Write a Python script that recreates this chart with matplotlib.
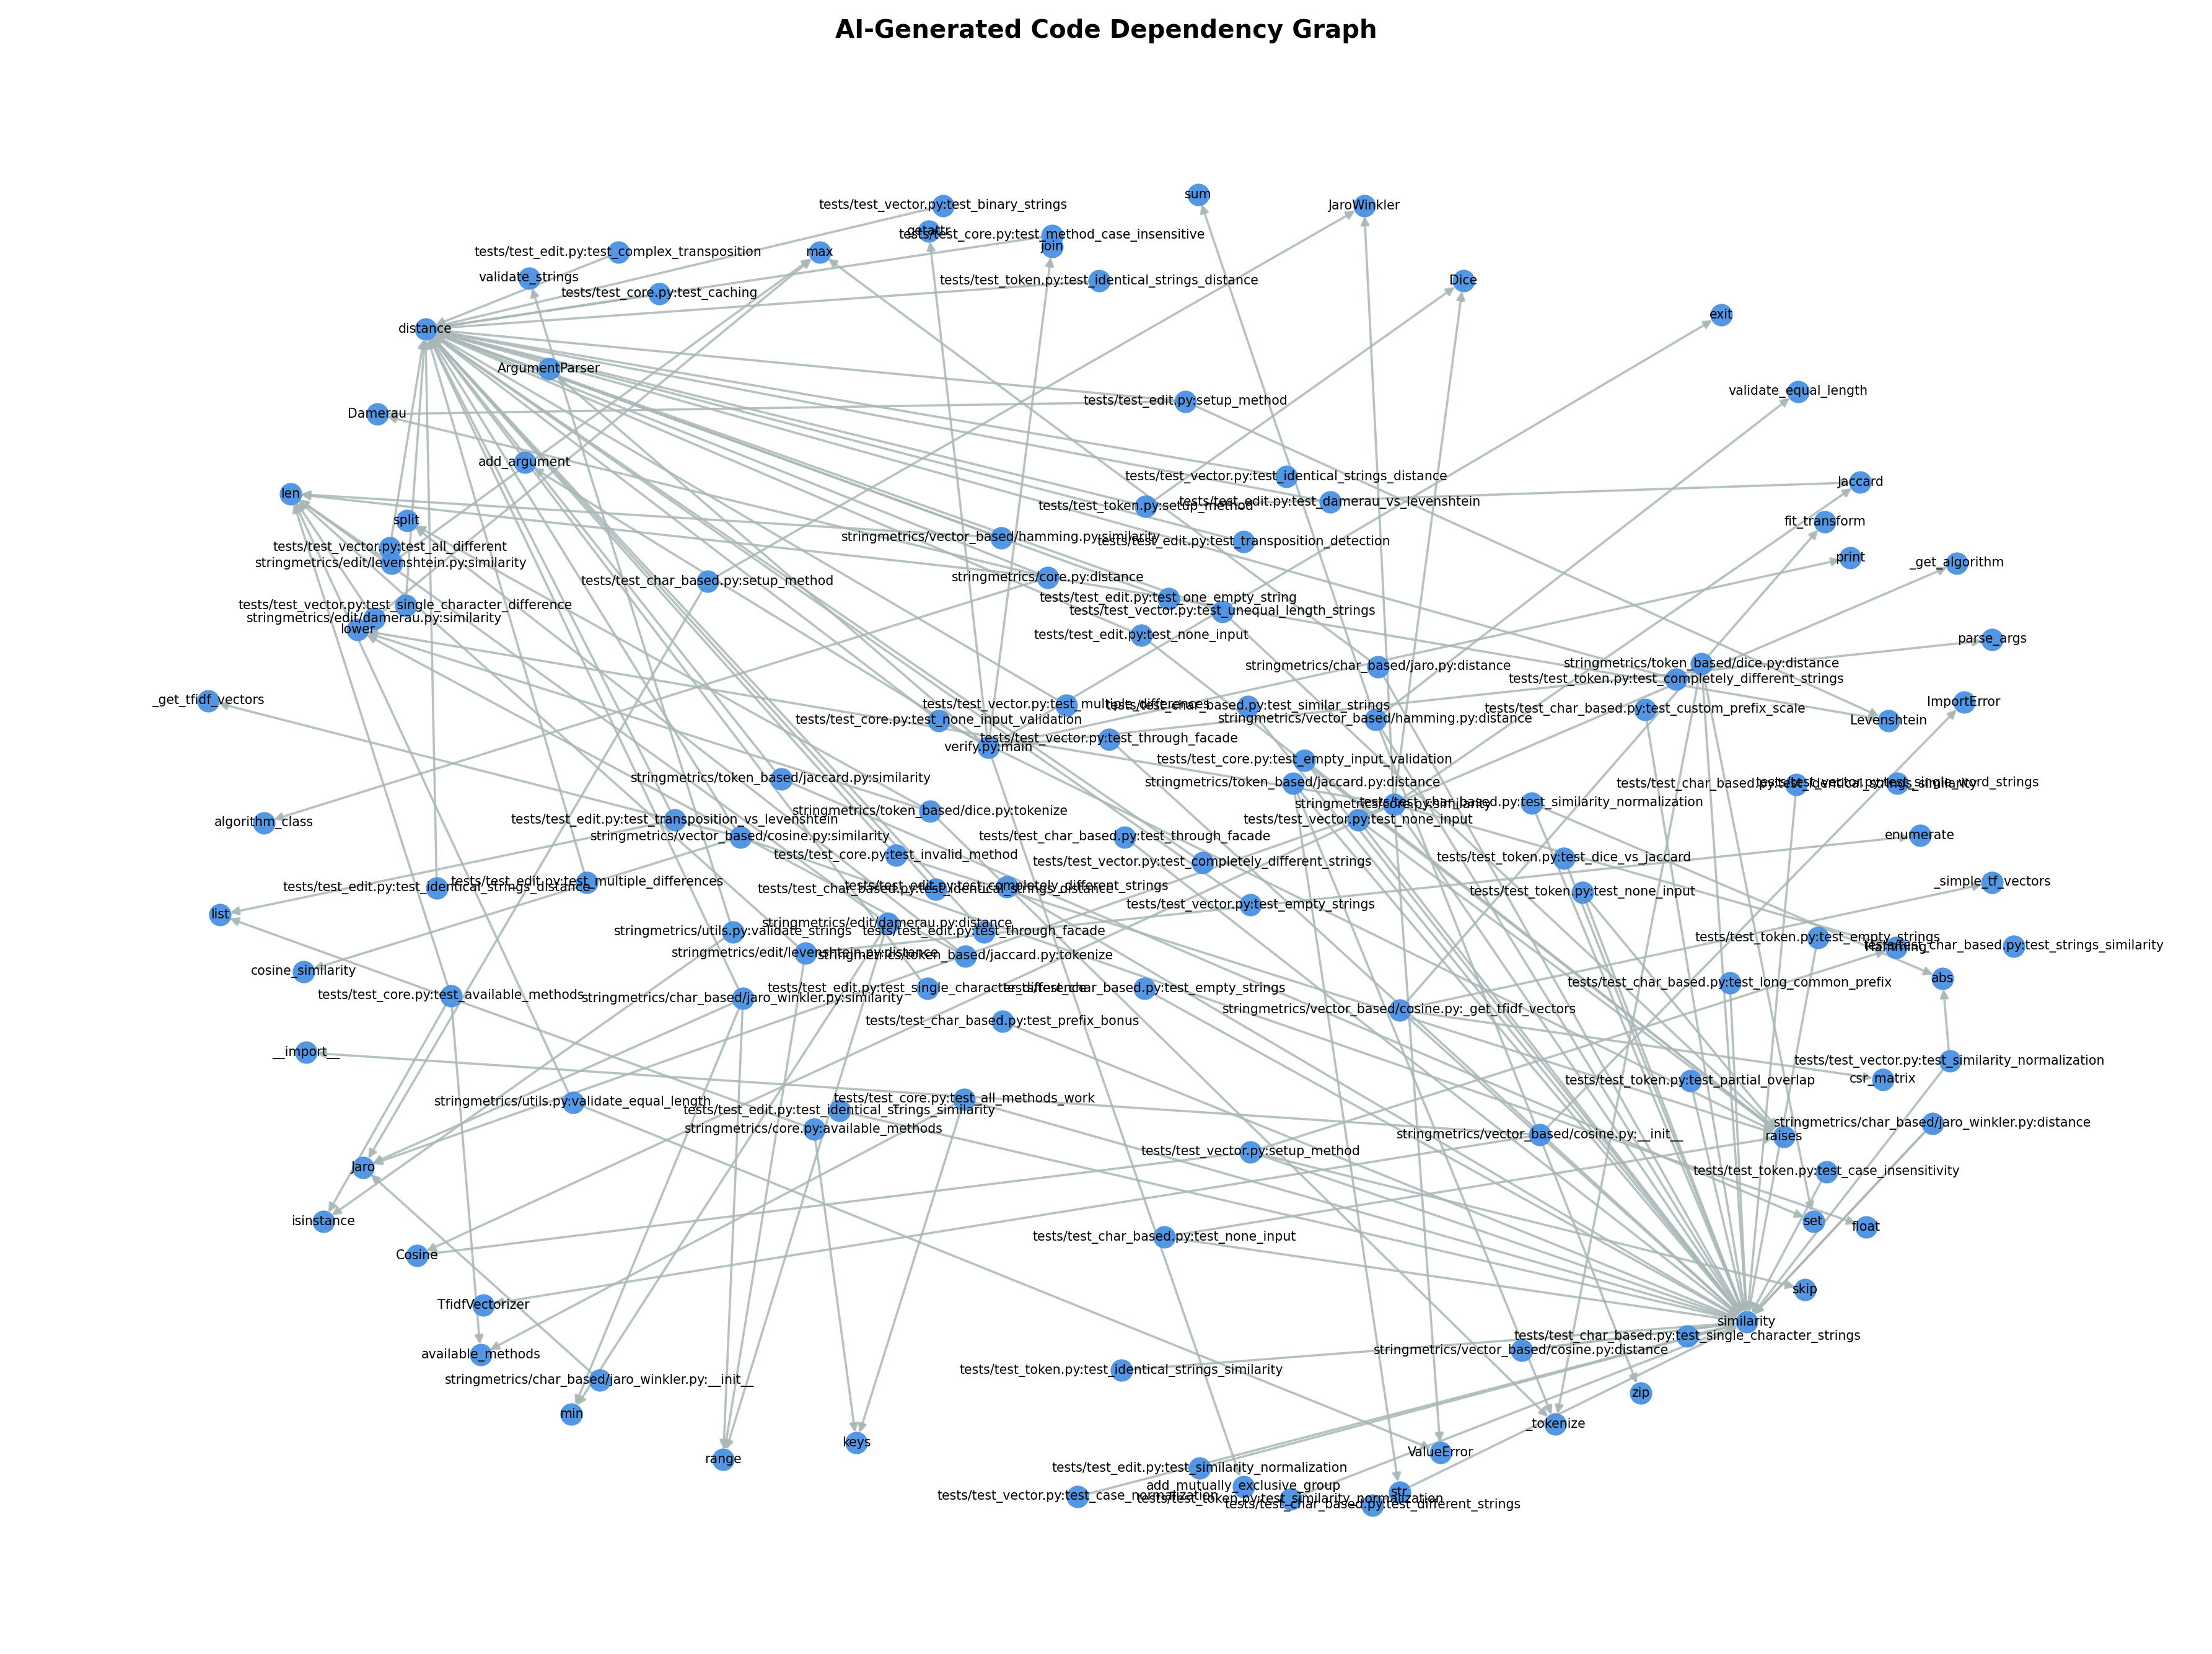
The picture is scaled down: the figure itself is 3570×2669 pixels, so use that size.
import matplotlib.pyplot as plt

# node name -> (x, y) layout position (pixel-like layout coordinates)
nodes = {
    "sum": (845, 137), "JaroWinkler": (962, 145),
    "tests/test_vector.py:test_binary_strings": (665, 145),
    "getattr": (655, 163), "join": (742, 174),
    "tests/test_core.py:test_method_case_insensitive": (742, 166),
    "max": (578, 178), "tests/test_edit.py:test_complex_transposition": (436, 178),
    "validate_strings": (373, 196), "tests/test_core.py:test_caching": (465, 207),
    "tests/test_token.py:test_identical_strings_distance": (775, 198),
    "Dice": (1032, 198), "exit": (1214, 222), "distance": (300, 232),
    "ArgumentParser": (387, 260), "Damerau": (266, 292),
    "tests/test_edit.py:setup_method": (836, 283),
    "validate_equal_length": (1268, 276), "add_argument": (370, 326),
    "tests/test_vector.py:test_identical_strings_distance": (907, 336),
    "Jaccard": (1312, 340), "len": (205, 348),
    "tests/test_token.py:setup_method": (808, 357),
    "tests/test_edit.py:test_damerau_vs_levenshtein": (938, 354),
    "split": (287, 367), "fit_transform": (1287, 368),
    "stringmetrics/vector_based/hamming.py:similarity": (706, 379),
    "tests/test_edit.py:test_transposition_detection": (877, 382),
    "tests/test_vector.py:test_all_different": (275, 386),
    "print": (1305, 393), "_get_algorithm": (1380, 397),
    "stringmetrics/edit/levenshtein.py:similarity": (276, 397),
    "tests/test_char_based.py:setup_method": (499, 410),
    "stringmetrics/core.py:distance": (739, 407),
    "tests/test_edit.py:test_one_empty_string": (824, 422),
    "tests/test_vector.py:test_single_character_difference": (286, 427),
    "tests/test_vector.py:test_unequal_length_strings": (862, 431),
    "stringmetrics/edit/damerau.py:similarity": (264, 436),
    "lower": (252, 444), "tests/test_edit.py:test_none_input": (805, 448),
    "parse_args": (1405, 451),
    "stringmetrics/char_based/jaro.py:distance": (972, 470),
    "stringmetrics/token_based/dice.py:distance": (1200, 468),
    "tests/test_token.py:test_completely_different_strings": (1182, 479),
    "_get_tfidf_vectors": (147, 494), "ImportError": (1385, 495),
    "tests/test_vector.py:test_multiple_differences": (752, 497),
    "tests/test_char_based.py:test_similar_strings": (880, 498),
    "tests/test_char_based.py:test_custom_prefix_scale": (1160, 500),
    "stringmetrics/vector_based/hamming.py:distance": (970, 507),
    "tests/test_core.py:test_none_input_validation": (662, 508),
    "verify.py:main": (697, 527),
    "tests/test_vector.py:test_through_facade": (782, 521),
    "Levenshtein": (1332, 508),
    "tests/test_core.py:test_empty_input_validation": (920, 536),
    "stringmetrics/token_based/jaccard.py:similarity": (551, 549),
    "stringmetrics/token_based/jaccard.py:distance": (912, 552),
    "tests/test_char_based.py:test_identical_strings_similarity": (1267, 553),
    "tests/test_vector.py:test_single_word_strings": (1338, 552),
    "stringmetrics/core.py:similarity": (983, 567),
    "tests/test_char_based.py:test_similarity_normalization": (1080, 566),
    "algorithm_class": (186, 580),
    "tests/test_edit.py:test_transposition_vs_levenshtein": (476, 578),
    "stringmetrics/token_based/dice.py:tokenize": (656, 572),
    "tests/test_vector.py:test_none_input": (958, 578),
    "stringmetrics/vector_based/cosine.py:similarity": (522, 590),
    "tests/test_char_based.py:test_through_facade": (793, 590),
    "enumerate": (1354, 589),
    "tests/test_core.py:test_invalid_method": (632, 603),
    "tests/test_vector.py:test_completely_different_strings": (848, 608),
    "tests/test_token.py:test_dice_vs_jaccard": (1103, 605),
    "tests/test_edit.py:test_multiple_differences": (414, 622),
    "tests/test_edit.py:test_identical_strings_distance": (308, 626),
    "_simple_tf_vectors": (1405, 622), "list": (155, 645),
    "tests/test_char_based.py:test_identical_strings_distance": (660, 627),
    "tests/test_edit.py:test_completely_different_strings": (710, 625),
    "tests/test_vector.py:test_empty_strings": (882, 638),
    "tests/test_token.py:test_none_input": (1116, 629),
    "stringmetrics/edit/damerau.py:distance": (626, 651),
    "stringmetrics/utils.py:validate_strings": (517, 657),
    "tests/test_edit.py:test_through_facade": (694, 657),
    "tests/test_token.py:test_empty_strings": (1282, 661),
    "Hamming": (1337, 668),
    "tests/test_char_based.py:test_strings_similarity": (1420, 667),
    "stringmetrics/edit/levenshtein.py:distance": (568, 672),
    "stringmetrics/token_based/jaccard.py:tokenize": (681, 674),
    "cosine_similarity": (214, 685),
    "tests/test_char_based.py:test_long_common_prefix": (1220, 693),
    "abs": (1370, 690),
    "tests/test_core.py:test_available_methods": (318, 702),
    "stringmetrics/char_based/jaro_winkler.py:similarity": (524, 704),
    "tests/test_edit.py:test_single_character_difference": (654, 697),
    "tests/test_char_based.py:test_empty_strings": (807, 697),
    "stringmetrics/vector_based/cosine.py:_get_tfidf_vectors": (987, 712),
    "tests/test_char_based.py:test_prefix_bonus": (707, 720),
    "__import__": (216, 742),
    "tests/test_vector.py:test_similarity_normalization": (1375, 748),
    "tests/test_token.py:test_partial_overlap": (1192, 762),
    "csr_matrix": (1328, 761),
    "stringmetrics/utils.py:validate_equal_length": (404, 777),
    "tests/test_core.py:test_all_methods_work": (680, 775),
    "tests/test_edit.py:test_identical_strings_similarity": (592, 783),
    "stringmetrics/char_based/jaro_winkler.py:distance": (1363, 792),
    "stringmetrics/core.py:available_methods": (574, 796),
    "stringmetrics/vector_based/cosine.py:__init__": (1086, 800),
    "raises": (1258, 801),
    "tests/test_vector.py:setup_method": (882, 812),
    "Jaro": (256, 823),
    "tests/test_token.py:test_case_insensitivity": (1288, 826),
    "isinstance": (228, 861), "set": (1279, 861), "float": (1316, 865),
    "tests/test_char_based.py:test_none_input": (821, 872),
    "Cosine": (294, 885), "skip": (1273, 909), "TfidfVectorizer": (341, 920),
    "similarity": (1232, 932),
    "tests/test_char_based.py:test_single_character_strings": (1190, 942),
    "available_methods": (339, 955),
    "stringmetrics/vector_based/cosine.py:distance": (1073, 952),
    "tests/test_token.py:test_identical_strings_similarity": (791, 966),
    "stringmetrics/char_based/jaro_winkler.py:__init__": (423, 973),
    "zip": (1157, 982), "min": (403, 997), "_tokenize": (1097, 1004),
    "keys": (604, 1017), "range": (510, 1029), "ValueError": (1016, 1024),
    "tests/test_edit.py:test_similarity_normalization": (846, 1035),
    "add_mutually_exclusive_group": (877, 1048), "str": (987, 1052),
    "tests/test_vector.py:test_case_normalization": (760, 1055),
    "tests/test_token.py:test_similarity_normalization": (910, 1057),
    "tests/test_char_based.py:test_different_strings": (968, 1061),
}

distance_callers = [
    "tests/test_edit.py:test_complex_transposition", "tests/test_core.py:test_caching",
    "tests/test_token.py:test_identical_strings_distance", "tests/test_edit.py:setup_method",
    "tests/test_vector.py:test_identical_strings_distance", "tests/test_token.py:setup_method",
    "tests/test_edit.py:test_damerau_vs_levenshtein", "stringmetrics/vector_based/hamming.py:similarity",
    "tests/test_edit.py:test_transposition_detection", "stringmetrics/core.py:distance",
    "tests/test_edit.py:test_one_empty_string", "tests/test_vector.py:test_unequal_length_strings",
    "tests/test_edit.py:test_none_input", "tests/test_vector.py:test_multiple_differences",
    "stringmetrics/token_based/jaccard.py:similarity", "tests/test_core.py:test_none_input_validation",
    "stringmetrics/vector_based/cosine.py:similarity", "tests/test_edit.py:test_multiple_differences",
    "tests/test_char_based.py:test_identical_strings_distance", "tests/test_vector.py:test_empty_strings",
    "tests/test_edit.py:test_single_character_difference", "tests/test_edit.py:test_through_facade",
    "stringmetrics/char_based/jaro_winkler.py:similarity", "tests/test_token.py:test_completely_different_strings",
    "tests/test_core.py:test_invalid_method", "tests/test_vector.py:test_completely_different_strings",
]
similarity_callers = [
    "tests/test_char_based.py:test_similar_strings", "tests/test_char_based.py:test_custom_prefix_scale",
    "stringmetrics/vector_based/hamming.py:distance", "tests/test_core.py:test_empty_input_validation",
    "stringmetrics/token_based/jaccard.py:distance", "tests/test_char_based.py:test_identical_strings_similarity",
    "tests/test_char_based.py:test_similarity_normalization", "tests/test_vector.py:test_none_input",
    "tests/test_token.py:test_dice_vs_jaccard", "tests/test_token.py:test_none_input",
    "tests/test_token.py:test_empty_strings", "tests/test_char_based.py:test_long_common_prefix",
    "stringmetrics/vector_based/cosine.py:_get_tfidf_vectors", "tests/test_char_based.py:test_prefix_bonus",
    "tests/test_vector.py:test_similarity_normalization", "tests/test_token.py:test_partial_overlap",
    "tests/test_core.py:test_all_methods_work", "tests/test_edit.py:test_identical_strings_similarity",
    "stringmetrics/char_based/jaro_winkler.py:distance", "tests/test_token.py:test_case_insensitivity",
    "tests/test_char_based.py:test_none_input", "stringmetrics/vector_based/cosine.py:distance",
    "tests/test_token.py:test_identical_strings_similarity", "tests/test_edit.py:test_similarity_normalization",
    "tests/test_token.py:test_similarity_normalization", "tests/test_char_based.py:test_different_strings",
    "tests/test_vector.py:test_case_normalization", "tests/test_char_based.py:test_single_character_strings",
    "tests/test_char_based.py:test_empty_strings", "tests/test_edit.py:test_completely_different_strings",
    "tests/test_vector.py:test_through_facade", "tests/test_char_based.py:test_through_facade",
    "stringmetrics/core.py:similarity", "tests/test_vector.py:setup_method",
]
other_edges = [
    ("stringmetrics/edit/levenshtein.py:similarity", "len"),
    ("stringmetrics/edit/damerau.py:similarity", "len"),
    ("stringmetrics/edit/damerau.py:distance", "len"),
    ("stringmetrics/edit/levenshtein.py:distance", "len"),
    ("stringmetrics/core.py:distance", "len"),
    ("stringmetrics/vector_based/hamming.py:similarity", "len"),
    ("stringmetrics/token_based/jaccard.py:tokenize", "lower"),
    ("stringmetrics/token_based/dice.py:tokenize", "lower"),
    ("stringmetrics/token_based/jaccard.py:tokenize", "split"),
    ("stringmetrics/token_based/dice.py:tokenize", "split"),
    ("stringmetrics/core.py:similarity", "lower"),
    ("verify.py:main", "ArgumentParser"), ("verify.py:main", "add_argument"),
    ("verify.py:main", "print"), ("verify.py:main", "exit"),
    ("verify.py:main", "parse_args"), ("verify.py:main", "add_mutually_exclusive_group"),
    ("verify.py:main", "getattr"), ("verify.py:main", "join"),
    ("stringmetrics/core.py:available_methods", "keys"),
    ("stringmetrics/core.py:available_methods", "list"),
    ("stringmetrics/core.py:similarity", "_get_algorithm"),
    ("stringmetrics/core.py:distance", "Levenshtein"),
    ("stringmetrics/core.py:distance", "Damerau"),
    ("stringmetrics/core.py:similarity", "Jaro"),
    ("stringmetrics/core.py:similarity", "JaroWinkler"),
    ("stringmetrics/core.py:similarity", "Jaccard"),
    ("stringmetrics/core.py:similarity", "Dice"),
    ("stringmetrics/core.py:similarity", "Cosine"),
    ("stringmetrics/core.py:similarity", "Hamming"),
    ("stringmetrics/core.py:similarity", "ValueError"),
    ("stringmetrics/core.py:distance", "algorithm_class"),
    ("stringmetrics/utils.py:validate_strings", "isinstance"),
    ("stringmetrics/utils.py:validate_strings", "validate_strings"),
    ("stringmetrics/utils.py:validate_equal_length", "len"),
    ("stringmetrics/utils.py:validate_equal_length", "ValueError"),
    ("stringmetrics/vector_based/hamming.py:distance", "validate_equal_length"),
    ("stringmetrics/vector_based/hamming.py:distance", "zip"),
    ("stringmetrics/vector_based/hamming.py:distance", "sum"),
    ("stringmetrics/vector_based/cosine.py:__init__", "TfidfVectorizer"),
    ("stringmetrics/vector_based/cosine.py:__init__", "__import__"),
    ("stringmetrics/vector_based/cosine.py:__init__", "ImportError"),
    ("stringmetrics/vector_based/cosine.py:_get_tfidf_vectors", "fit_transform"),
    ("stringmetrics/vector_based/cosine.py:_get_tfidf_vectors", "_simple_tf_vectors"),
    ("stringmetrics/vector_based/cosine.py:_get_tfidf_vectors", "csr_matrix"),
    ("stringmetrics/vector_based/cosine.py:similarity", "cosine_similarity"),
    ("stringmetrics/vector_based/cosine.py:similarity", "_get_tfidf_vectors"),
    ("stringmetrics/vector_based/cosine.py:similarity", "float"),
    ("stringmetrics/char_based/jaro.py:distance", "similarity"),
    ("stringmetrics/char_based/jaro.py:distance", "max"),
    ("stringmetrics/char_based/jaro_winkler.py:similarity", "min"),
    ("stringmetrics/char_based/jaro_winkler.py:similarity", "range"),
    ("stringmetrics/char_based/jaro_winkler.py:similarity", "Jaro"),
    ("stringmetrics/char_based/jaro_winkler.py:__init__", "Jaro"),
    ("stringmetrics/edit/damerau.py:distance", "range"),
    ("stringmetrics/edit/damerau.py:distance", "min"),
    ("stringmetrics/edit/levenshtein.py:distance", "range"),
    ("stringmetrics/edit/levenshtein.py:distance", "enumerate"),
    ("stringmetrics/token_based/jaccard.py:similarity", "set"),
    ("stringmetrics/token_based/dice.py:distance", "set"),
    ("stringmetrics/token_based/dice.py:distance", "_tokenize"),
    ("stringmetrics/token_based/jaccard.py:distance", "_tokenize"),
    ("stringmetrics/token_based/jaccard.py:distance", "str"),
    ("tests/test_core.py:test_available_methods", "available_methods"),
    ("tests/test_core.py:test_available_methods", "isinstance"),
    ("tests/test_core.py:test_available_methods", "len"),
    ("tests/test_core.py:test_invalid_method", "raises"),
    ("tests/test_core.py:test_none_input_validation", "raises"),
    ("tests/test_core.py:test_empty_input_validation", "raises"),
    ("tests/test_vector.py:test_unequal_length_strings", "raises"),
    ("tests/test_edit.py:test_none_input", "raises"),
    ("tests/test_token.py:test_none_input", "raises"),
    ("tests/test_char_based.py:test_none_input", "raises"),
    ("tests/test_vector.py:test_none_input", "raises"),
    ("tests/test_vector.py:setup_method", "skip"),
    ("tests/test_vector.py:setup_method", "Hamming"),
    ("tests/test_vector.py:setup_method", "Cosine"),
    ("tests/test_vector.py:test_similarity_normalization", "abs"),
    ("tests/test_char_based.py:test_similarity_normalization", "abs"),
    ("tests/test_edit.py:setup_method", "Damerau"),
    ("tests/test_edit.py:setup_method", "Levenshtein"),
    ("tests/test_token.py:setup_method", "Jaccard"),
    ("tests/test_token.py:setup_method", "Dice"),
    ("tests/test_char_based.py:setup_method", "Jaro"),
    ("tests/test_char_based.py:setup_method", "JaroWinkler"),
    ("tests/test_core.py:test_all_methods_work", "available_methods"),
    ("tests/test_core.py:test_all_methods_work", "keys"),
    ("tests/test_core.py:test_method_case_insensitive", "distance"),
    ("tests/test_vector.py:test_binary_strings", "distance"),
    ("tests/test_vector.py:test_all_different", "distance"),
    ("tests/test_vector.py:test_single_character_difference", "distance"),
    ("tests/test_edit.py:test_identical_strings_distance", "distance"),
    ("tests/test_edit.py:test_transposition_vs_levenshtein", "distance"),
    ("tests/test_edit.py:test_transposition_vs_levenshtein", "list"),
    ("stringmetrics/edit/levenshtein.py:similarity", "max"),
    ("stringmetrics/edit/damerau.py:similarity", "max"),
    ("stringmetrics/vector_based/cosine.py:distance", "similarity"),
    ("stringmetrics/char_based/jaro_winkler.py:distance", "similarity"),
    ("stringmetrics/token_based/dice.py:distance", "similarity"),
    ("stringmetrics/token_based/dice.py:tokenize", "_tokenize"),
]
edges = ([(c, "distance") for c in distance_callers]
         + [(c, "similarity") for c in similarity_callers] + other_edges)

node_color = "#4a90e2"
edge_color = "#a9b7b7"

fig = plt.figure(figsize=(17.85, 13.345), dpi=200)
ax = fig.add_axes([0, 0, 1, 1])
ax.set_xlim(0, 1560)
ax.set_ylim(1166, 0)
ax.axis("off")

for s, t in edges:
    if s not in nodes or t not in nodes or s == t:
        continue
    ax.annotate("", xy=nodes[t], xytext=nodes[s],
                arrowprops=dict(arrowstyle="-|>", color=edge_color, lw=1.3,
                                mutation_scale=10, alpha=0.85,
                                shrinkA=5, shrinkB=6), zorder=1)

xs = [p[0] for p in nodes.values()]
ys = [p[1] for p in nodes.values()]
ax.scatter(xs, ys, s=170, c=node_color, alpha=0.95, zorder=2, linewidths=0)
for name, (x, y) in nodes.items():
    ax.text(x, y, name, fontsize=7.4, ha="center", va="center", zorder=3)

ax.text(780, 22, "AI-Generated Code Dependency Graph", fontsize=14.5,
        fontweight="bold", ha="center", va="center")

fig.savefig("out.png", dpi=200)
